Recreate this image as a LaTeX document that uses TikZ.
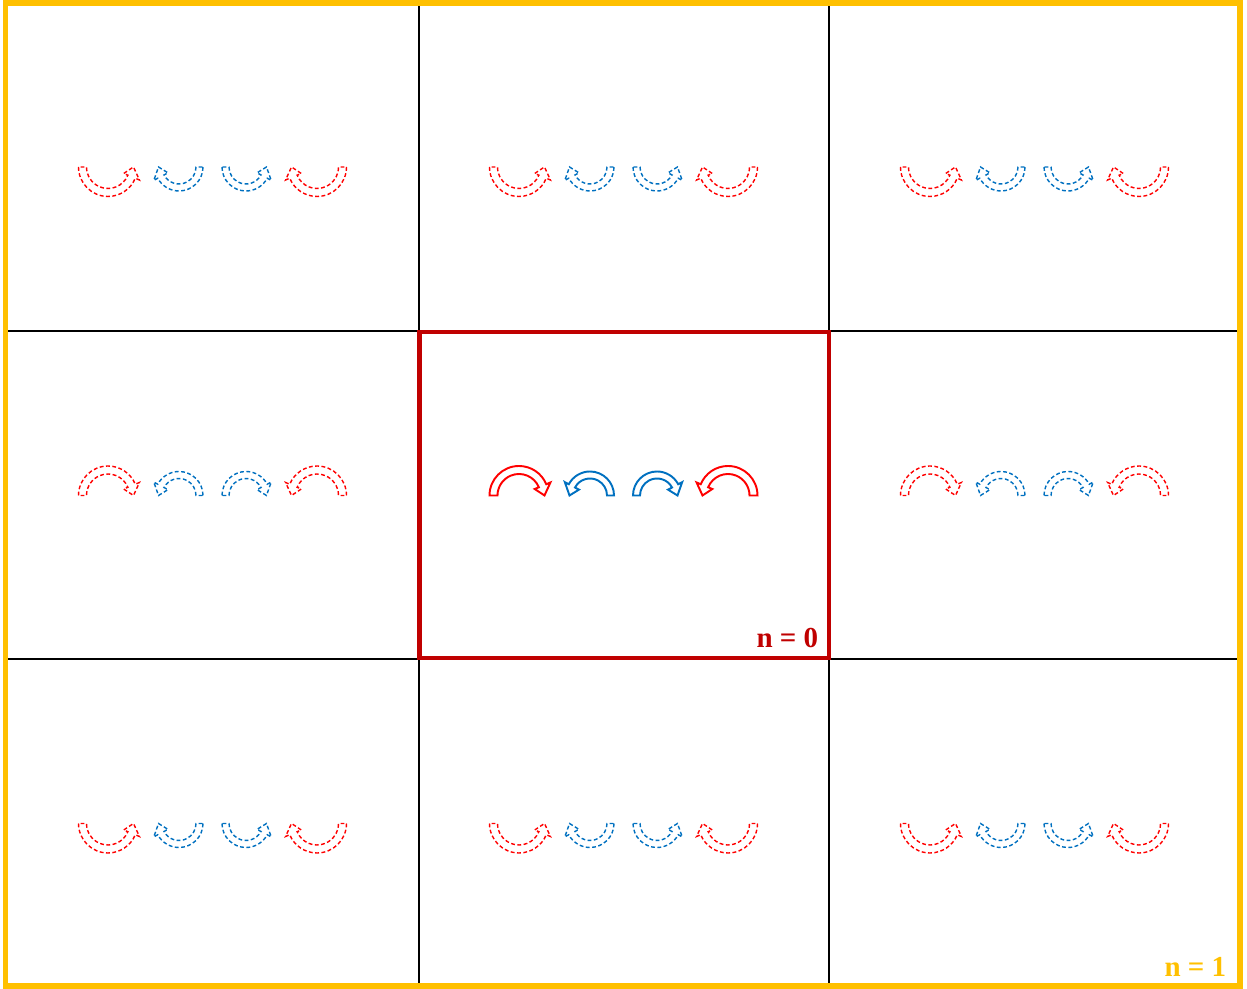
\documentclass[tikz,border=0pt]{standalone}
\usepackage{fontspec}
\setmainfont{Liberation Serif}
\usetikzlibrary{calc}
\definecolor{arcred}{RGB}{255,0,0}
\definecolor{arcblue}{RGB}{0,112,192}
\definecolor{boxred}{RGB}{192,0,0}
\definecolor{framegold}{RGB}{255,192,0}
\tikzset{
  redarc/.style={arcred, line width=1.1pt},
  bluearc/.style={arcblue, line width=1.1pt},
  ghost/.style={line width=0.8pt, dash pattern=on 2.2pt off 1.4pt},
  gridline/.style={black, line width=1.1pt},
  zerobox/.style={draw=boxred, line width=2.8pt},
  outerframe/.style={draw=framegold, line width=3.1pt},
  tag/.style={font=\fontsize{16.5}{19}\selectfont\bfseries, inner sep=0pt, anchor=base east},
  pics/bend/.style n args={2}{code={
    \pgfmathsetmacro{\rmid}{(#1+#2)/2}
    \pgfmathsetmacro{\hang}{deg(0.2/\rmid)}
    \draw (180:#1) arc[start angle=180, end angle=\hang, radius=#1]
      -- ({\hang}:{#1+0.09}) -- (0:\rmid) -- ({\hang}:{#2-0.09}) -- ({\hang}:#2)
      arc[start angle=\hang, end angle=180, radius=#2] -- cycle;
  }}
}
% one row of four bent arrows around the cell centre
\newcommand{\arcrow}[1]{%
  \pic[redarc, #1] at (-2.09,0) {bend={0.59}{0.43}};
  \pic[bluearc, #1, xscale=-1] at (-0.67,0) {bend={0.48}{0.34}};
  \pic[bluearc, #1] at (0.67,0) {bend={0.48}{0.34}};
  \pic[redarc, #1, xscale=-1] at (2.09,0) {bend={0.59}{0.43}};
}

\begin{document}
\begin{tikzpicture}
  \useasboundingbox (0,0) rectangle (24.94,19.78);
  % grid
  \draw[gridline] (8.38,0.04) -- (8.38,19.72);
  \draw[gridline] (16.58,0.04) -- (16.58,19.72);
  \draw[gridline] (0.14,13.16) -- (24.80,13.16);
  \draw[gridline] (0.14,6.60) -- (24.80,6.60);
  % image cells
  \foreach \cx/\cy/\fy in {4.25/16.44/-1, 12.47/16.44/-1, 20.69/16.44/-1,
                           4.25/9.87/1, 20.69/9.87/1,
                           4.25/3.31/-1, 12.47/3.31/-1, 20.69/3.31/-1}{
    \begin{scope}[shift={(\cx,\cy)}]
      \arcrow{ghost, yscale=\fy}
    \end{scope}
  }
  % central cell
  \begin{scope}[shift={(12.47,9.87)}]
    \arcrow{}
  \end{scope}
  \draw[zerobox] (8.39,6.62) rectangle (16.58,13.14);
  \draw[outerframe] (0.11,0.06) rectangle (24.80,19.72);
  \node[tag, boxred] (nzero) at (16.37,6.82) {n = 0};
  \node[tag, framegold] (nfirst) at (24.53,0.24) {n = 1};
\end{tikzpicture}
\end{document}
